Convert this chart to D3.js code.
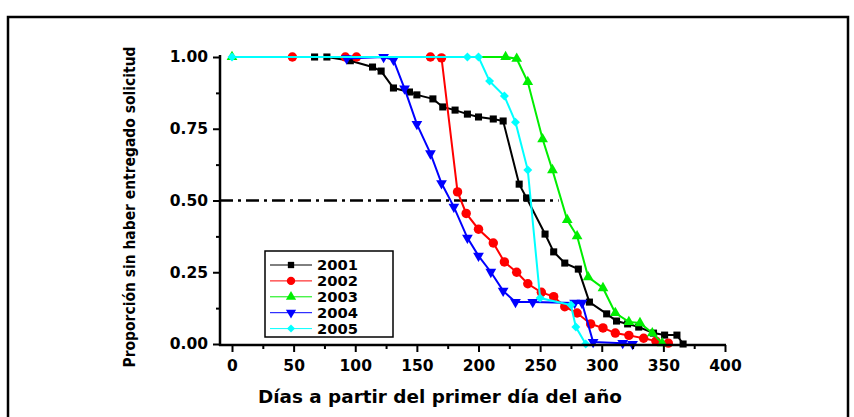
<!DOCTYPE html>
<html>
<head>
<meta charset="utf-8">
<script src="https://cdn.jsdelivr.net/npm/d3@7"></script>
<style>
  html, body { margin: 0; padding: 0; background: #fff; }
  svg { display: block; }
  text { font-family: "DejaVu Sans", sans-serif; font-weight: bold; }
</style>
</head>
<body>
<svg id="chart" width="854" height="417"></svg>
<script>
// ---- data ----
const years = ["2001", "2002", "2003", "2004", "2005"];
const colors = ["#000000", "#ff0000", "#00ee00", "#0000ff", "#00ffff"];

const days2001 = [67, 77, 96, 114, 121, 131, 144, 150, 163, 171, 181, 191, 200, 212, 220, 233, 239, 254, 261, 270, 281, 290, 304, 312, 321, 330, 342, 351, 361, 366];
const prop2001 = [1.00, 1.00, 0.987, 0.965, 0.951, 0.892, 0.878, 0.868, 0.854, 0.826, 0.815, 0.801, 0.791, 0.784, 0.777, 0.557, 0.509, 0.383, 0.321, 0.282, 0.261, 0.146, 0.105, 0.080, 0.070, 0.059, 0.038, 0.031, 0.031, 0.0];

const days2002 = [49, 92, 101, 161, 170, 183, 190, 200, 212, 221, 231, 240, 251, 261, 270, 280, 291, 301, 311, 322, 334, 344, 354];
const prop2002 = [1.00, 1.00, 1.00, 1.00, 0.997, 0.53, 0.455, 0.40, 0.352, 0.286, 0.25, 0.21, 0.18, 0.165, 0.13, 0.108, 0.07, 0.056, 0.038, 0.03, 0.02, 0.01, 0.003];

const days2003 = [0, 222, 231, 240, 252, 260, 272, 280, 289, 301, 311, 322, 331, 341, 349];
const prop2003 = [1.00, 1.00, 0.994, 0.913, 0.714, 0.606, 0.432, 0.376, 0.233, 0.195, 0.108, 0.077, 0.073, 0.038, 0.003];

const days2004 = [93, 123, 131, 140, 150, 161, 170, 180, 191, 200, 210, 220, 230, 244, 278, 284, 293, 317, 325];
const prop2004 = [0.995, 1.00, 0.99, 0.89, 0.766, 0.664, 0.56, 0.478, 0.37, 0.307, 0.251, 0.185, 0.146, 0.146, 0.143, 0.143, 0.007, 0.003, 0.0];

const days2005 = [0, 191, 200, 209, 221, 230, 240, 250, 275, 279, 287];
const prop2005 = [1.00, 1.00, 1.00, 0.916, 0.864, 0.773, 0.606, 0.16, 0.136, 0.059, 0.0];

const xTicks = [0, 50, 100, 150, 200, 250, 300, 350, 400];
const xMinorTicks = [25, 75, 125, 175, 225, 275, 325, 375];
const yTicks = [0, 0.25, 0.5, 0.75, 1.0];
const yMinorTicks = [0.125, 0.375, 0.625, 0.875];
const refLine = 0.5;
const xTitle = "Días a partir del primer día del año";
const yTitle = "Proporción sin haber entregado solicitud";

const allDays = [days2001, days2002, days2003, days2004, days2005];
const allProps = [prop2001, prop2002, prop2003, prop2004, prop2005];

// ---- layout ----
const svg = d3.select("#chart");
const x = d3.scaleLinear().domain([0, 400]).range([232, 725]);
const y = d3.scaleLinear().domain([0, 1]).range([344, 57]);
const axisLeftX = 220, axisBottomY = 345;

// outer frame (left, top, right)
svg.append("path")
  .attr("d", "M8,417 L8,17 L848,17 L848,417")
  .attr("fill", "none").attr("stroke", "#000").attr("stroke-width", 2.5);

// reference line
svg.append("line")
  .attr("x1", axisLeftX).attr("x2", x(265))
  .attr("y1", y(refLine)).attr("y2", y(refLine))
  .attr("stroke", "#000").attr("stroke-width", 2.5)
  .attr("stroke-dasharray", "13,5,3,5");

// series
const markerSymbols = [d3.symbolSquare, d3.symbolCircle, d3.symbolTriangle, d3.symbolTriangle, d3.symbolSquare];
const markerSizes = [50, 70, 50, 50, 40];
const markerRot = [0, 0, 0, 180, 45];

const line = d3.line().x(d => x(d[0])).y(d => y(d[1]));

years.forEach((yr, i) => {
  const pts = allDays[i].map((d, j) => [d, allProps[i][j]]);
  const g = svg.append("g");
  g.append("path").datum(pts)
    .attr("d", line).attr("fill", "none")
    .attr("stroke", colors[i]).attr("stroke-width", 2);
  g.selectAll("path.m").data(pts).enter().append("path")
    .attr("class", "m")
    .attr("d", d3.symbol().type(markerSymbols[i]).size(markerSizes[i]))
    .attr("transform", d => `translate(${x(d[0])},${y(d[1])}) rotate(${markerRot[i]})`)
    .attr("fill", colors[i]);
});

// axes
const yAxis = d3.axisLeft(y).tickValues(yTicks).tickFormat(d3.format(".2f")).tickSize(7).tickPadding(5);
const yAxisMinor = d3.axisLeft(y).tickValues(yMinorTicks).tickFormat("").tickSize(4);
const gy = svg.append("g").attr("transform", `translate(${axisLeftX},0)`).call(yAxis);
const gym = svg.append("g").attr("transform", `translate(${axisLeftX},0)`).call(yAxisMinor);
[gy, gym].forEach(g => { g.select(".domain").remove(); g.selectAll("line").attr("stroke-width", 2); });
gy.selectAll("text").attr("font-size", 15.5).attr("fill", "#000")
  .attr("font-family", "DejaVu Sans").attr("font-weight", "bold");

const xAxis = d3.axisBottom(x).tickValues(xTicks).tickFormat(d3.format("d")).tickSize(7).tickPadding(8);
const xAxisMinor = d3.axisBottom(x).tickValues(xMinorTicks).tickFormat("").tickSize(4);
const gx = svg.append("g").attr("transform", `translate(0,${axisBottomY})`).call(xAxis);
const gxm = svg.append("g").attr("transform", `translate(0,${axisBottomY})`).call(xAxisMinor);
[gx, gxm].forEach(g => { g.select(".domain").remove(); g.selectAll("line").attr("stroke-width", 2); });
gx.selectAll("text").attr("font-size", 15.5).attr("fill", "#000")
  .attr("font-family", "DejaVu Sans").attr("font-weight", "bold");

// axis lines
svg.append("line").attr("x1", axisLeftX).attr("x2", axisLeftX)
  .attr("y1", 55).attr("y2", axisBottomY + 1)
  .attr("stroke", "#000").attr("stroke-width", 2.5);
svg.append("line").attr("x1", axisLeftX - 1).attr("x2", x(400) + 1)
  .attr("y1", axisBottomY).attr("y2", axisBottomY)
  .attr("stroke", "#000").attr("stroke-width", 2.5);

// titles
svg.append("text").attr("x", 440).attr("y", 403)
  .attr("text-anchor", "middle").attr("font-size", 18)
  .attr("textLength", 364).attr("lengthAdjust", "spacingAndGlyphs")
  .text(xTitle);
svg.append("text")
  .attr("transform", "translate(135,207) rotate(-90)")
  .attr("text-anchor", "middle").attr("font-size", 15)
  .attr("textLength", 321).attr("lengthAdjust", "spacingAndGlyphs")
  .text(yTitle);

// legend
const lg = svg.append("g");
lg.append("rect").attr("x", 265).attr("y", 251).attr("width", 128).attr("height", 86)
  .attr("fill", "#fff").attr("stroke", "#000").attr("stroke-width", 1.5);
const legendMarkerSizes = [40, 55, 45, 45, 32];
years.forEach((yr, i) => {
  const cy = 265 + i * 15.9;
  lg.append("line").attr("x1", 270).attr("x2", 312).attr("y1", cy).attr("y2", cy)
    .attr("stroke", colors[i]).attr("stroke-width", 1);
  lg.append("path")
    .attr("d", d3.symbol().type(markerSymbols[i]).size(legendMarkerSizes[i]))
    .attr("transform", `translate(291,${cy}) rotate(${markerRot[i]})`)
    .attr("fill", colors[i]);
  lg.append("text").attr("x", 317).attr("y", cy + 5)
    .attr("font-size", 13.5)
    .attr("textLength", 41).attr("lengthAdjust", "spacingAndGlyphs")
    .text(yr);
});
</script>
</body>
</html>
